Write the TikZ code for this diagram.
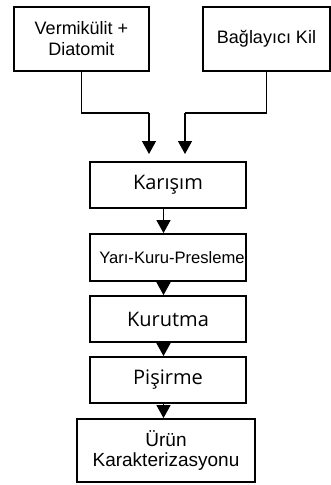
\documentclass[tikz,border=0pt]{standalone}
\usepackage{fontspec}
\setmainfont{Liberation Sans}
\newfontfamily\segoe{Open Sans}
\usetikzlibrary{arrows.meta}
\tikzset{
  box/.style={draw=black, line width=1.8pt, rectangle, inner sep=0pt, align=center, text=black},
  arr/.style={line width=1.3pt, -{Triangle[length=13pt,width=14pt]}},
  conn/.style={line width=1.3pt},
}
\begin{document}
\begin{tikzpicture}[x=1pt,y=-1pt]
\useasboundingbox (0,0) rectangle (331,485);
\node[box, minimum width=135pt, minimum height=64pt, font=\fontsize{18}{21}\selectfont] (b1) at (81.5,39) {Vermikülit +\\Diatomit};
\node[box, minimum width=127pt, minimum height=64pt, font=\fontsize{18}{21}\selectfont] (b2) at (266.5,39) {Bağlayıcı Kil};
\node[box, minimum width=156pt, minimum height=46pt, font=\segoe\fontsize{20}{22}\selectfont] (k) at (168,185) {Karışım};
\node[box, minimum width=156pt, minimum height=47pt, font=\fontsize{16.6}{20}\selectfont] (y) at (168,257.5) {\hspace*{8pt}Yarı-Kuru-Presleme};
\node[box, minimum width=156pt, minimum height=46pt, font=\segoe\fontsize{20}{22}\selectfont] (ku) at (168,319) {Kurutma};
\node[box, minimum width=156pt, minimum height=46pt, font=\segoe\fontsize{20}{22}\selectfont] (p) at (168,380) {Pişirme};
\node[box, minimum width=178pt, minimum height=63pt, font=\fontsize{19}{20}\selectfont] (u) at (166,450.5) {Ürün\\Karakterizasyonu};
\coordinate (j1) at (149,113);
\coordinate (t1) at (149,154);
\coordinate (j2) at (185,113);
\coordinate (t2) at (185,154);
\draw[conn] (b1.south) |- (j1);
\draw[arr] (j1) -- (t1);
\draw[conn] (b2.south) |- (j2);
\draw[arr] (j2) -- (t2);
\draw[arr] (k.south -| 163.5,0) -- (y.north -| 163.5,0);
\draw[arr] (y.south -| 163.5,0) -- (ku.north -| 163.5,0);
\draw[arr] (ku.south -| 163.5,0) -- (p.north -| 163.5,0);
\draw[arr] (p.south -| 163.5,0) -- (u.north -| 163.5,0);
\end{tikzpicture}
\end{document}
